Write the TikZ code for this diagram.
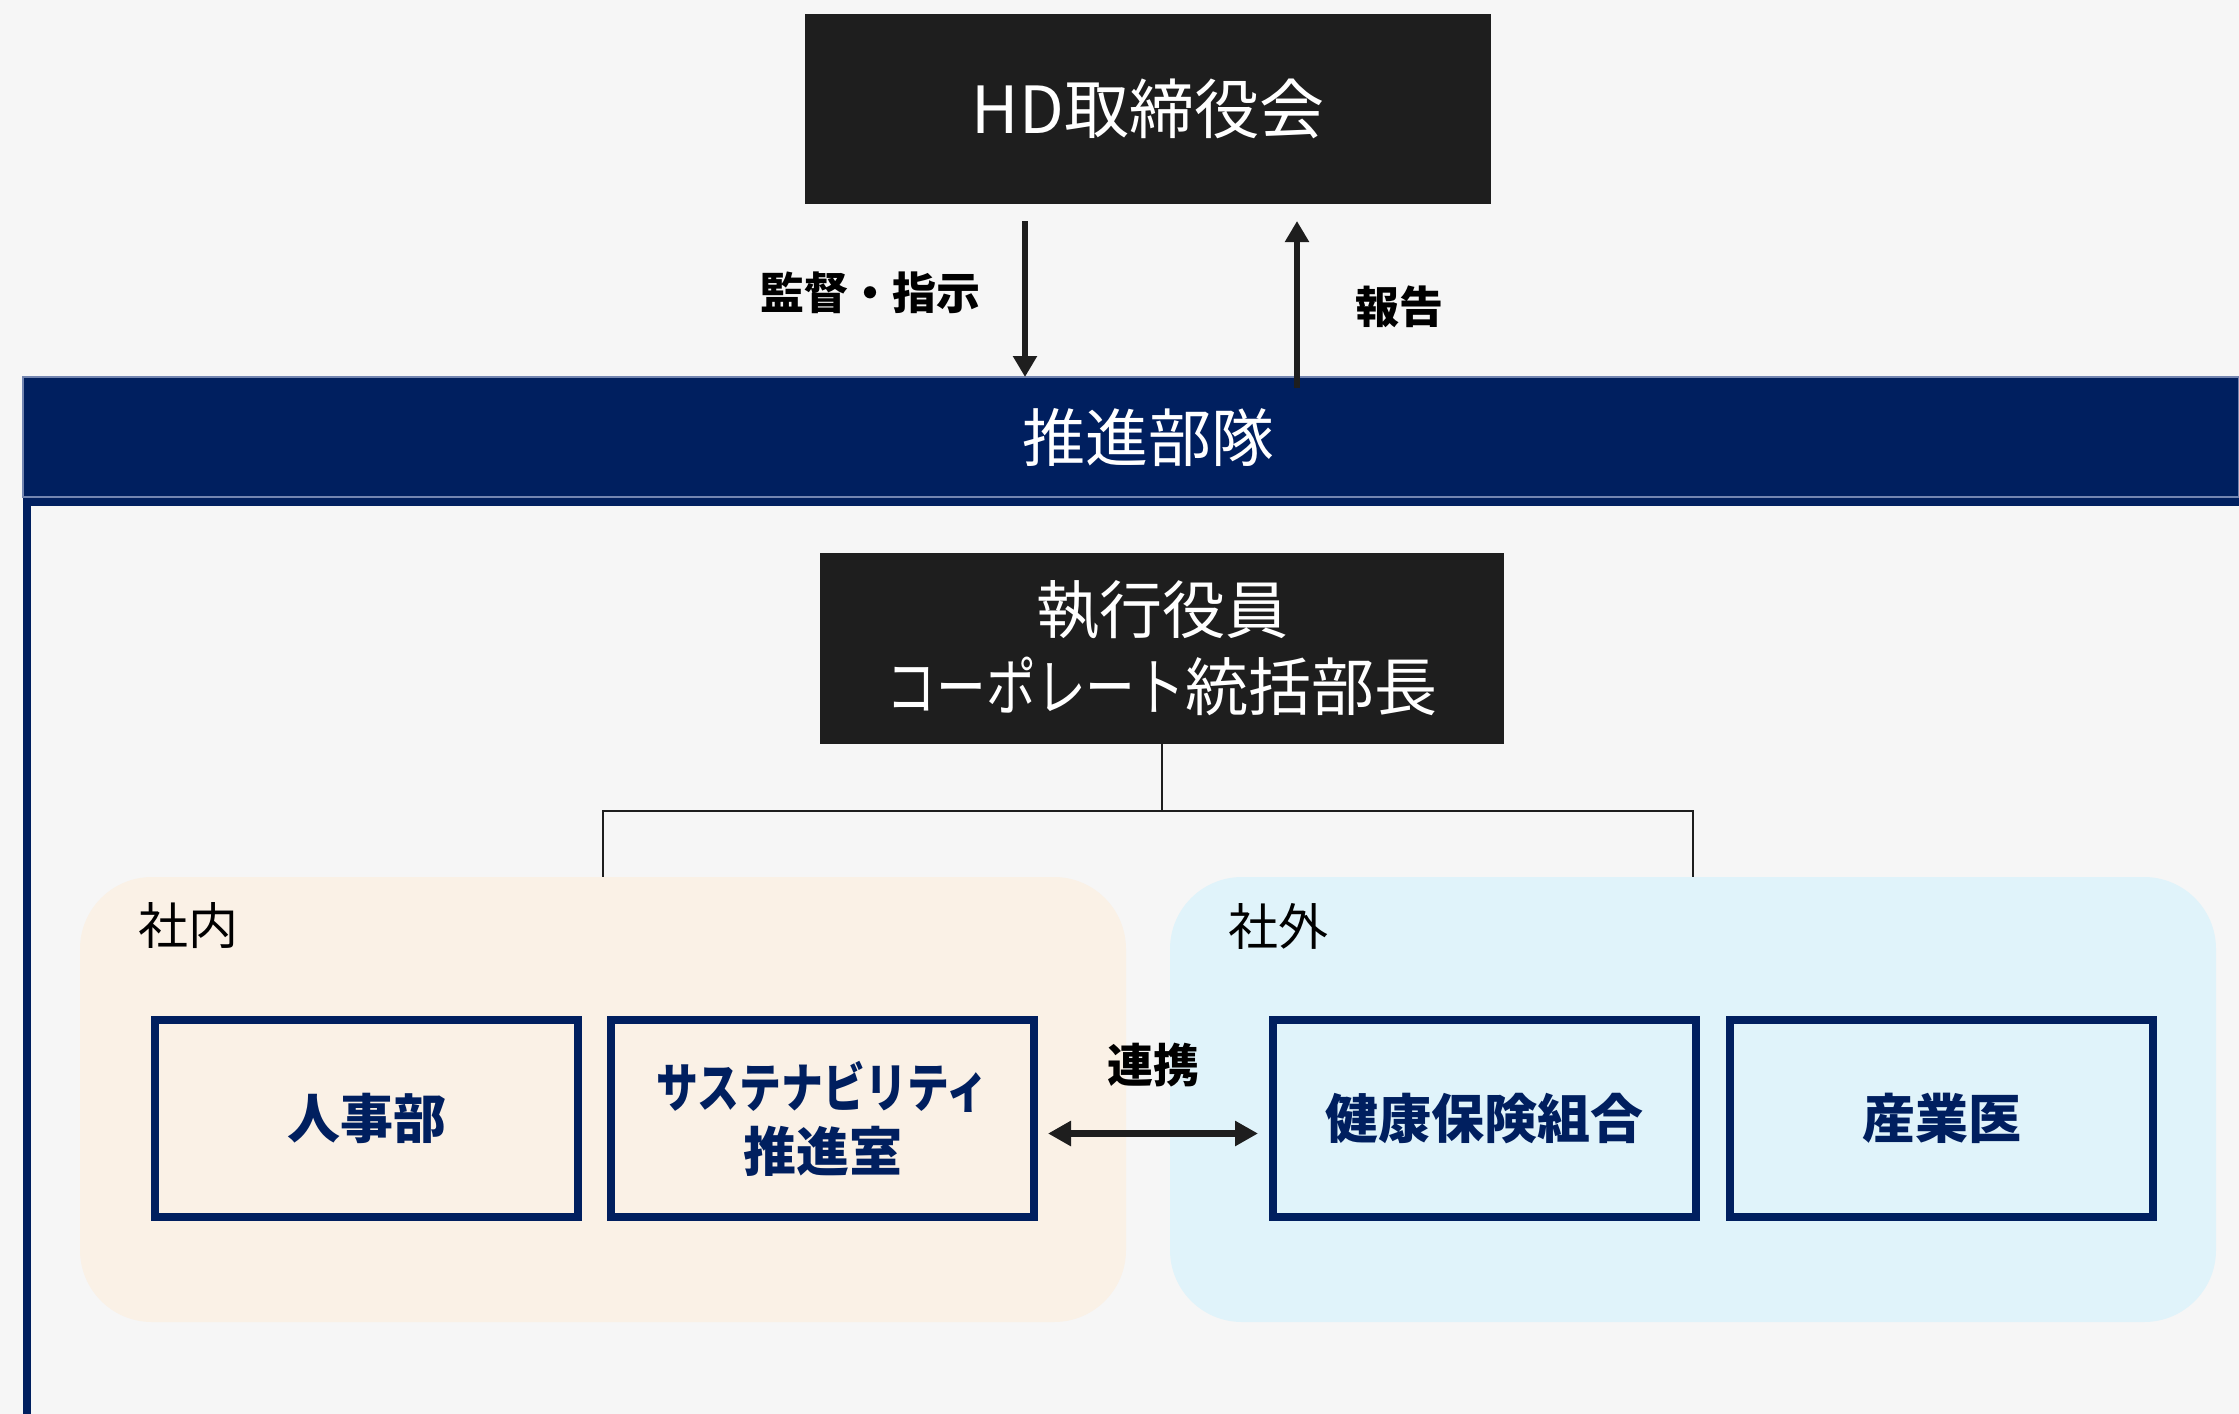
\documentclass[tikz,border=0pt]{standalone}
\usepackage{fontspec}
\setmainfont{Noto Sans CJK JP}
\usetikzlibrary{arrows.meta}
\definecolor{navy}{HTML}{001F5F}
\definecolor{darkc}{HTML}{1E1E1E}
\definecolor{bgc}{HTML}{F6F6F6}
\definecolor{beige}{HTML}{FAF1E6}
\definecolor{skyc}{HTML}{E0F3FA}
\definecolor{slate}{HTML}{7385B0}
\newcommand{\narrowkana}[1]{\scalebox{0.79}[1]{#1}}
\begin{document}
\begin{tikzpicture}[x=1pt,y=-1pt,
  every node/.style={inner sep=0pt, outer sep=0pt},
  darkbox/.style={fill=darkc, text=white, align=center},
  unitbox/.style={draw=navy, line width=8pt, minimum width=423pt, minimum height=197pt,
    align=center, text=navy, font=\bfseries\fontsize{53}{64}\selectfont},
  grp/.style={rounded corners=72pt, minimum width=1046pt, minimum height=445pt},
  grplabel/.style={anchor=west, text=black, font=\fontsize{50}{60}\selectfont},
  lbl/.style={text=black, font=\bfseries\fontsize{44}{54}\selectfont},
  arr/.style={line width=6pt, draw=darkc, -{Triangle[length=21pt,width=23pt]}},
  dbl/.style={line width=7pt, draw=darkc, {Triangle[length=23pt,width=24pt]}-{Triangle[length=23pt,width=24pt]}},
  tree/.style={line width=2pt, draw=darkc}
]
\useasboundingbox (0,0) rectangle (2239,1414);
\fill[bgc] (0,0) rectangle (2239,1414);

% top board
\node[darkbox, minimum width=686pt, minimum height=190pt,
  font=\fontsize{65}{76}\selectfont] (hd) at (1148,109) {HD取締役会};

% promotion band with frame
\fill[navy] (23,490) rectangle (2239,506);
\fill[navy] (23,490) rectangle (31,1414);
\node[fill=navy, draw=slate, line width=1.2pt, minimum width=2216pt, minimum height=120pt] (band) at (1131,437) {};
\node[text=white, font=\fontsize{63}{74}\selectfont] (bandtext) at (1148,438) {推進部隊};

% arrows between board and band
\coordinate (dn) at (1025,221);
\coordinate (up) at (1297,388);
\draw[arr] (dn) -- (dn |- band.north);
\draw[arr] (up) -- (up |- 0,221);
\node[lbl] (lsup) at (870,293) {監督・指示};
\node[lbl] (lrep) at (1399,307) {報告};

% executive
\node[darkbox, minimum width=684pt, minimum height=191pt,
  font=\fontsize{63}{77}\selectfont] (exec) at (1162,648.5) {執行役員\\\narrowkana{コーポレート}統括部長};

% groups
\node[grp, fill=beige] (gin) at (603,1099.5) {};
\node[grp, fill=skyc] (gout) at (1693,1099.5) {};
\node[grplabel] (tin) at (138,926) {社内};
\node[grplabel] (tout) at (1228,926) {社外};

% tree connectors
\draw[tree] (exec.south) -- ++(0,67) coordinate (mid);
\draw[tree] (mid) -| (gin.north);
\draw[tree] (mid) -| (gout.north);

% unit boxes
\node[unitbox] (hr) at (366.5,1118.5) {人事部};
\node[unitbox] (sus) at (822.5,1118.5) {\narrowkana{サステナビリティ}\\推進室};
\node[unitbox] (kenpo) at (1484.5,1118.5) {健康保険組合};
\node[unitbox] (doc) at (1941.5,1118.5) {産業医};

% cooperation arrow
\draw[dbl, shorten <=14pt, shorten >=15pt] ([yshift=-15pt]sus.east) -- ([yshift=-15pt]kenpo.west);
\node[lbl, font=\bfseries\fontsize{46}{54}\selectfont] (lco) at (1153,1065) {連携};
\end{tikzpicture}
\end{document}
